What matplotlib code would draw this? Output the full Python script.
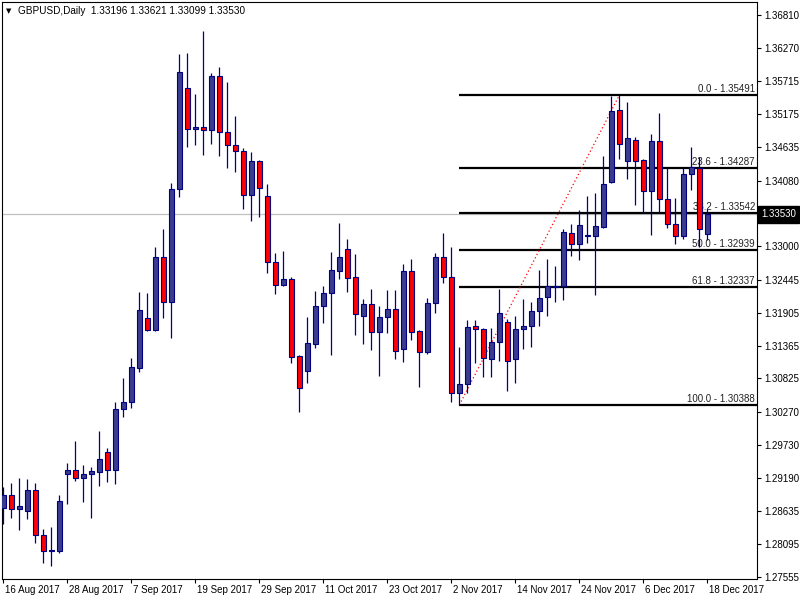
import matplotlib.pyplot as plt

# daily candles, 16 Aug 2017 .. 18 Dec 2017 (business days)
opens = [1.28685, 1.28904, 1.28669, 1.28646, 1.28987, 1.28246, 1.27977, 1.27987, 1.29250, 1.29316,
         1.29179, 1.29245, 1.29288, 1.29613, 1.29311, 1.30316, 1.30431, 1.30991, 1.31815, 1.31622,
         1.32819, 1.32078, 1.33939, 1.35603, 1.34927, 1.34960, 1.34911, 1.35800, 1.34878, 1.34664,
         1.34565, 1.33840, 1.34400, 1.33824, 1.32737, 1.32358, 1.32457, 1.31194, 1.30952, 1.31391,
         1.32022, 1.32226, 1.32599, 1.32951, 1.32490, 1.31857, 1.32045, 1.31584, 1.31841, 1.31968,
         1.31304, 1.32594, 1.31605, 1.31255, 1.32062, 1.32819, 1.32490, 1.30579, 1.30727, 1.31693,
         1.31633, 1.31139, 1.31429, 1.31759, 1.31139, 1.31633, 1.31693, 1.31935, 1.32160, 1.32335,
         1.32352, 1.33215, 1.33033, 1.33170, 1.33170, 1.33323, 1.34064, 1.35245, 1.34410, 1.34746,
         1.34422, 1.33906, 1.34730, 1.33775, 1.33363, 1.33165, 1.34186, 1.34285, 1.33196]
highs = [1.29031, 1.29107, 1.29189, 1.29168, 1.29107, 1.28344, 1.28382, 1.28904, 1.29436, 1.29794,
         1.29398, 1.29360, 1.29963, 1.29679, 1.30436, 1.30831, 1.31156, 1.32243, 1.32226, 1.32984,
         1.33285, 1.34038, 1.36168, 1.36179, 1.35509, 1.36546, 1.35860, 1.35949, 1.35706, 1.35142,
         1.34615, 1.34549, 1.34422, 1.34027, 1.32885, 1.32923, 1.32490, 1.31210, 1.31831, 1.32269,
         1.32347, 1.32912, 1.33389, 1.33121, 1.32874, 1.32132, 1.32297, 1.32017, 1.32281, 1.32281,
         1.32709, 1.32786, 1.31622, 1.32154, 1.32895, 1.33214, 1.32984, 1.31347, 1.31787, 1.31787,
         1.31650, 1.31650, 1.32292, 1.31798, 1.31857, 1.32128, 1.32088, 1.32610, 1.32786, 1.32676,
         1.33285, 1.33368, 1.33598, 1.33834, 1.33873, 1.34488, 1.35476, 1.35491, 1.35382, 1.34796,
         1.34438, 1.34850, 1.35191, 1.34285, 1.33791, 1.34285, 1.34641, 1.34466, 1.33621]
lows = [1.28422, 1.28531, 1.28328, 1.28504, 1.28108, 1.27789, 1.27740, 1.27944, 1.28751, 1.29140,
        1.28794, 1.28531, 1.29053, 1.29123, 1.29086, 1.30194, 1.30332, 1.30935, 1.31605, 1.31605,
        1.31824, 1.31495, 1.33807, 1.34641, 1.34674, 1.34509, 1.34690, 1.34493, 1.34295, 1.34229,
        1.33620, 1.33422, 1.33488, 1.32556, 1.32220, 1.32342, 1.31073, 1.30276, 1.30754, 1.31321,
        1.31742, 1.31210, 1.32467, 1.32253, 1.31540, 1.31391, 1.31292, 1.30869, 1.31578, 1.31139,
        1.31100, 1.31457, 1.30688, 1.31227, 1.31907, 1.32401, 1.30431, 1.30388, 1.30579, 1.31083,
        1.30853, 1.30853, 1.31116, 1.30622, 1.30754, 1.31304, 1.31347, 1.31693, 1.31857, 1.32088,
        1.32116, 1.32846, 1.32775, 1.33055, 1.32198, 1.33297, 1.34048, 1.34438, 1.34109, 1.33681,
        1.33554, 1.33187, 1.33554, 1.33297, 1.33033, 1.33116, 1.33923, 1.32994, 1.33099]
closes = [1.28904, 1.28669, 1.28723, 1.28987, 1.28246, 1.27982, 1.27999, 1.28806, 1.29316, 1.29179,
          1.29250, 1.29300, 1.29492, 1.29311, 1.30316, 1.30431, 1.31008, 1.31946, 1.31622, 1.32819,
          1.32078, 1.33939, 1.35866, 1.34927, 1.34960, 1.34911, 1.35800, 1.34878, 1.34664, 1.34565,
          1.33840, 1.34400, 1.33956, 1.32737, 1.32358, 1.32457, 1.31172, 1.30672, 1.31403, 1.32017,
          1.32226, 1.32610, 1.32819, 1.32473, 1.31880, 1.32045, 1.31584, 1.31831, 1.31968, 1.31281,
          1.32594, 1.31584, 1.31265, 1.32062, 1.32819, 1.32490, 1.30579, 1.30727, 1.31676, 1.31633,
          1.31156, 1.31429, 1.31897, 1.31116, 1.31633, 1.31688, 1.31935, 1.32144, 1.32347, 1.32352,
          1.33231, 1.33033, 1.33346, 1.33182, 1.33335, 1.34032, 1.35229, 1.34680, 1.34779, 1.34410,
          1.33906, 1.34730, 1.33775, 1.33363, 1.33165, 1.34186, 1.34302, 1.33285, 1.33530]

date_labels = ["16 Aug 2017", "28 Aug 2017", "7 Sep 2017", "19 Sep 2017", "29 Sep 2017",
               "11 Oct 2017", "23 Oct 2017", "2 Nov 2017", "14 Nov 2017", "24 Nov 2017",
               "6 Dec 2017", "18 Dec 2017"]
price_ticks = [1.36810, 1.36270, 1.35715, 1.35175, 1.34635, 1.34080, 1.33000, 1.32445,
               1.31905, 1.31365, 1.30825, 1.30270, 1.29730, 1.29190, 1.28635, 1.28095, 1.27555]
last_price = 1.33530

# fibonacci retracement (anchored on bar 57 low -> bar 77 high)
fib_low, fib_high = 1.30388, 1.35491
fib_pct = [0.0, 23.6, 38.2, 50.0, 61.8, 100.0]
fib_levels = [1.35491, 1.34287, 1.33542, 1.32939, 1.32337, 1.30388]
fib_start, fib_peak = 57, 77

BULL = '#3c3c8c'
BEAR = '#ff0000'
EDGE = '#000080'

plt.rcParams['font.family'] = ['Liberation Sans', 'DejaVu Sans']
fig = plt.figure(figsize=(8, 6), dpi=100)
ax = fig.add_axes([2 / 800, 21 / 600, 755 / 800, 577 / 600])
ax.set_xlim(-0.16, 94.2)
ax.set_ylim(1.27521, 1.37024)

# current price line
ax.axhline(last_price, color='#c0c0c0', lw=0.9, zorder=0)

# fib lines + labels (behind the candles)
xr = ax.get_xlim()[1]
ax.hlines(fib_levels, fib_start, xr, color='black', lw=1.6, zorder=1)
for pct, lvl in zip(fib_pct, fib_levels):
    ax.annotate(f'{pct:.1f} - {lvl:.5f}', xy=(1, lvl), xycoords=('axes fraction', 'data'),
                xytext=(-2, 1), textcoords='offset pixels', ha='right', va='bottom',
                fontsize=7, color='#222222', zorder=1)
ax.plot([fib_start, fib_peak], [fib_low, fib_high], color='red', ls=(0, (1, 2)), lw=0.9, zorder=1)

# candles
n = len(opens)
xs = list(range(n))
ax.vlines(xs, lows, highs, color=EDGE, lw=0.9, zorder=3)
bottoms = [min(o, c) for o, c in zip(opens, closes)]
heights = [max(abs(c - o), 0.00006) for o, c in zip(opens, closes)]
colors = [BULL if c >= o else BEAR for o, c in zip(opens, closes)]
ax.bar(xs, heights, bottom=bottoms, width=0.64, color=colors, edgecolor=EDGE, lw=0.8, zorder=4)

# axes styling
for s in ax.spines.values():
    s.set_color('black')
    s.set_linewidth(0.8)
ax.yaxis.tick_right()
ax.set_yticks(price_ticks)
ax.set_yticklabels([f'{p:.5f}' for p in price_ticks])
ax.tick_params(axis='y', direction='out', length=3, width=0.8, pad=2, labelsize=7)
ax.set_xticks(range(0, n, 8))
ax.set_xticklabels([])
ax.tick_params(axis='x', direction='out', length=3, width=0.8)
for k, lab in zip(range(0, n, 8), date_labels):
    ax.annotate(lab, xy=(k, 0), xycoords=('data', 'axes fraction'), xytext=(2, -11),
                textcoords='offset pixels', ha='left', va='center', fontsize=7,
                annotation_clip=False)

# last price box on the scale
ax.annotate(f'{last_price:.5f}', xy=(1, last_price), xycoords=('axes fraction', 'data'),
            xytext=(4, 0), textcoords='offset pixels', ha='left', va='center',
            fontsize=7, color='white', annotation_clip=False,
            bbox=dict(boxstyle='square,pad=0.35', fc='black', ec='black'))

# header
fig.text(6 / 800, 1 - 11 / 600, '\u25bc', fontsize=5, va='center', ha='left', family='DejaVu Sans')
fig.text(18 / 800, 1 - 11 / 600, 'GBPUSD,Daily  1.33196 1.33621 1.33099 1.33530',
         fontsize=7.2, va='center', ha='left')

fig.savefig('out.png', dpi=100)
